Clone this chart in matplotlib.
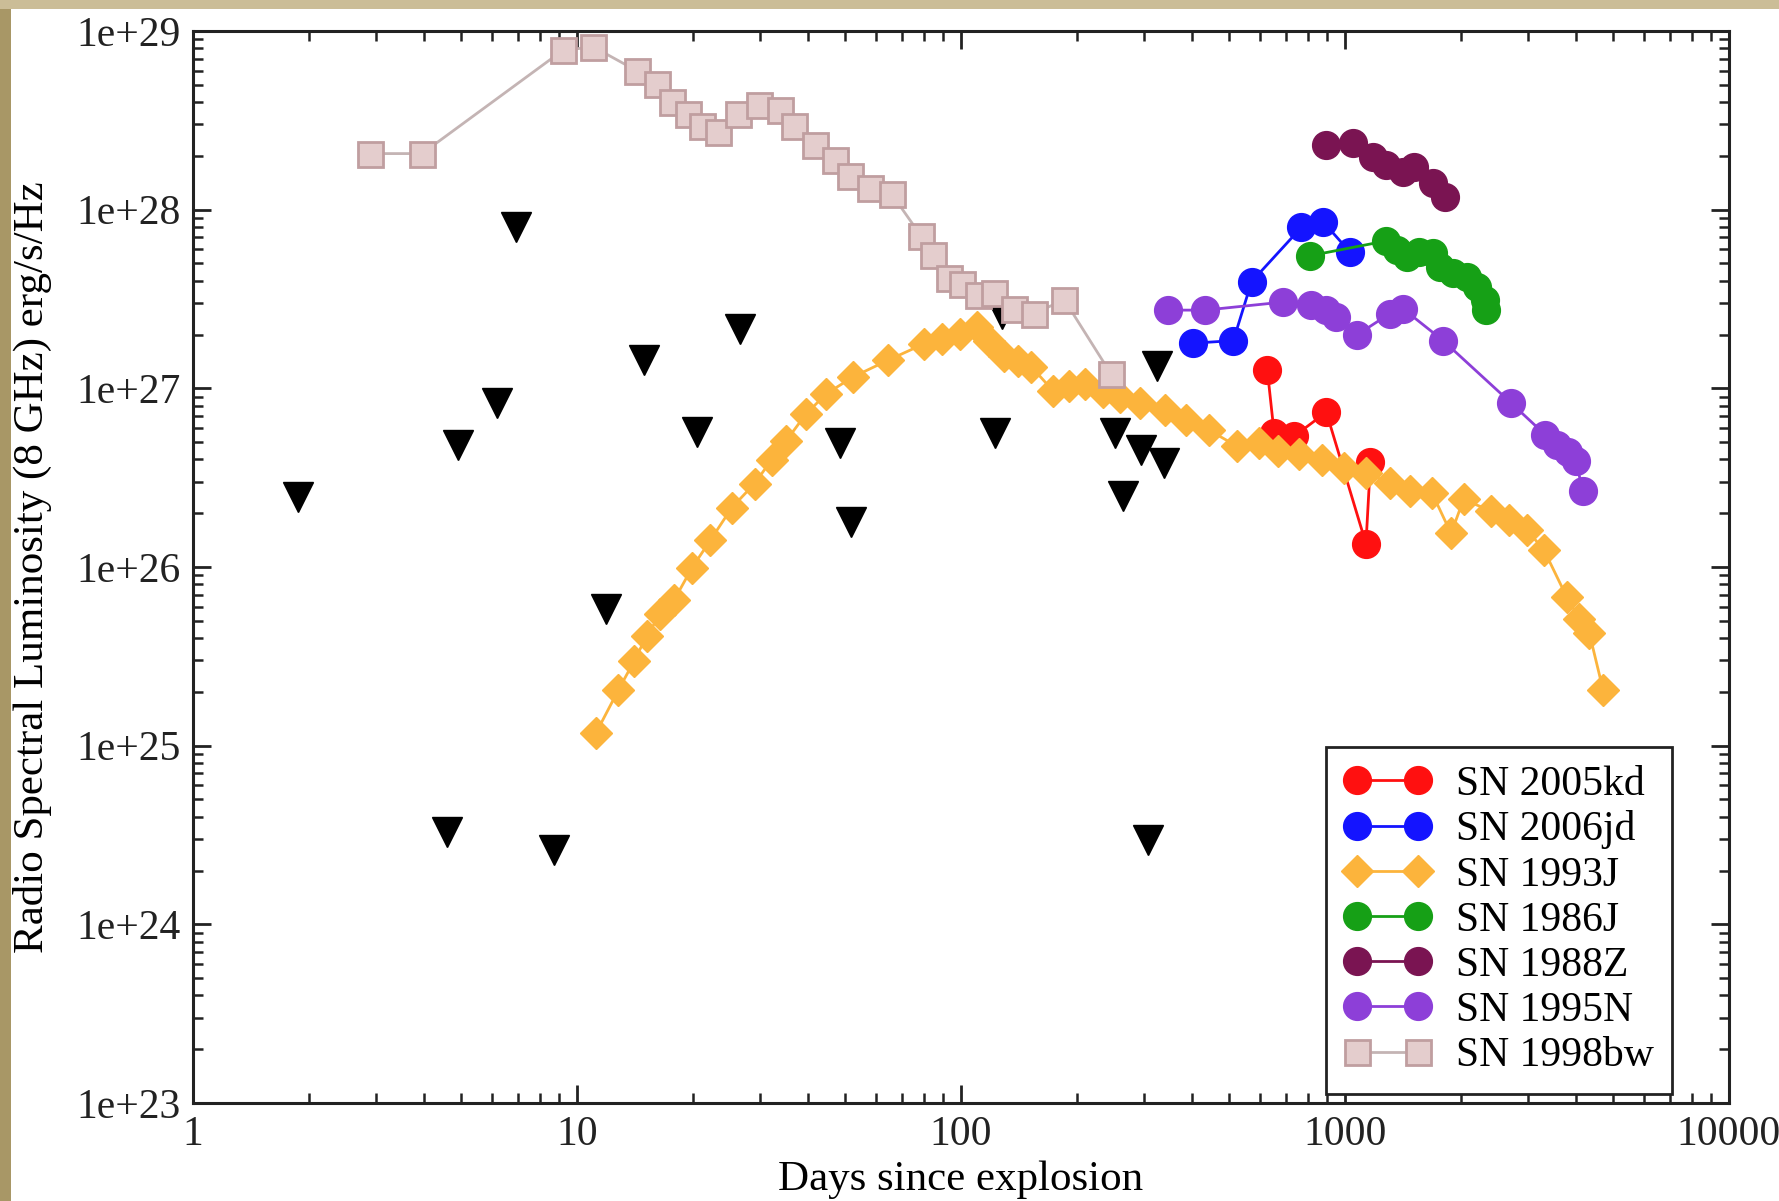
import matplotlib
matplotlib.use("Agg")
import matplotlib.pyplot as plt
from matplotlib.patches import Rectangle
from matplotlib.ticker import FixedLocator, FixedFormatter, LogLocator, NullFormatter

plt.rcParams['font.family'] = ['Liberation Serif', 'DejaVu Serif']

# ---- radio light curves at 8 GHz: days since explosion, luminosity (erg/s/Hz) ----
t_2005kd = [627.8, 653.6, 738.7, 894, 1134, 1165]
L_2005kd = [1.26e27, 5.65e26, 5.41e26, 7.36e26, 1.35e26, 3.87e26]

t_2006jd = [403, 512, 571, 770, 876, 1031]
L_2006jd = [1.79e27, 1.85e27, 3.95e27, 7.97e27, 8.58e27, 5.78e27]

t_1993J = [11.19, 12.82, 14.10, 15.20, 16.49, 17.88, 19.95, 22.24, 25.31, 29.00,
           32.11, 35.09, 39.38, 44.51, 52.42, 64.71, 79.89, 89.07, 99.3, 110.0,
           118.6, 129.5, 140.5, 152.5, 173.5, 190.8, 209.9, 234.0, 259.2, 293.0,
           340.2, 384.6, 443.6, 522.4, 598.4, 667.3, 759.3, 869.9, 996.6, 1134,
           1308, 1479, 1683, 1889, 2036, 2396, 2673, 2980, 3300, 3780,
           4074, 4330, 4700]
L_1993J = [1.17e25, 2.05e25, 2.99e25, 4.13e25, 5.45e25, 6.50e25, 9.93e25, 1.41e26, 2.15e26, 2.93e26,
           3.98e26, 5.10e26, 7.14e26, 9.30e26, 1.16e27, 1.44e27, 1.77e27, 1.90e27, 2.02e27, 2.20e27,
           1.85e27, 1.51e27, 1.42e27, 1.32e27, 9.71e26, 1.03e27, 1.06e27, 9.57e26, 8.90e26, 8.27e26,
           7.57e26, 6.64e26, 5.82e26, 4.75e26, 4.96e26, 4.48e26, 4.29e26, 3.98e26, 3.59e26, 3.34e26,
           2.97e26, 2.68e26, 2.61e26, 1.54e26, 2.39e26, 2.06e26, 1.83e26, 1.61e26, 1.24e26, 6.79e25,
           5.14e25, 4.25e25, 2.05e25]

t_1986J = [812.7, 1282, 1363, 1449, 1561, 1694, 1765, 1915, 2078, 2209, 2317, 2333]
L_1986J = [5.53e27, 6.69e27, 5.95e27, 5.45e27, 5.78e27, 5.70e27, 4.78e27, 4.44e27, 4.19e27, 3.67e27, 3.13e27, 2.74e27]

t_1988Z = [894, 1052, 1181, 1282, 1419, 1509, 1694, 1826]
L_1988Z = [2.29e28, 2.35e28, 1.97e28, 1.78e28, 1.63e28, 1.73e28, 1.41e28, 1.18e28]

t_1995N = [347, 432, 690, 818, 894, 950, 1074, 1308, 1419, 1801,
           2709, 3323, 3556, 3806, 3993, 4158]
L_1995N = [2.74e27, 2.74e27, 3.04e27, 2.91e27, 2.74e27, 2.51e27, 1.99e27, 2.62e27, 2.78e27, 1.85e27,
           8.27e26, 5.49e26, 4.82e26, 4.41e26, 3.93e26, 2.68e26]

t_1998bw = [2.89, 3.95, 9.19, 11.03, 14.29, 16.16, 17.65, 19.41, 21.21, 23.33,
            26.18, 29.81, 33.68, 36.79, 41.58, 46.99, 51.33, 58.02, 66.05, 78.8,
            84.4, 92.8, 100.7, 110.7, 121.8, 137.7, 154.6, 185.8, 245.5]
L_1998bw = [2.06e28, 2.06e28, 7.8e28, 8.15e28, 6.0e28, 5.04e28, 3.98e28, 3.44e28, 2.93e28, 2.72e28,
            3.44e28, 3.86e28, 3.59e28, 2.93e28, 2.29e28, 1.89e28, 1.54e28, 1.33e28, 1.22e28, 7.1e27,
            5.6e27, 4.13e27, 3.84e27, 3.32e27, 3.42e27, 2.78e27, 2.62e27, 3.13e27, 1.21e27]

# upper limits (non-detections)
t_limits = [1.88, 4.91, 6.19, 6.95, 4.59, 8.7, 11.9, 14.9, 20.5, 26.5,
            48.3, 51.7, 122.7, 127.8, 252, 264, 295, 338, 324, 307]
L_limits = [2.45e26, 4.8e26, 8.3e26, 8.0e27, 3.3e24, 2.6e24, 5.8e25, 1.44e27, 5.7e26, 2.14e27,
            4.95e26, 1.78e26, 5.65e26, 2.62e27, 5.6e26, 2.5e26, 4.5e26, 3.8e26, 1.34e27, 2.97e24]

x_ticks = [1, 10, 100, 1000, 10000]
x_tick_labels = ["1", "10", "100", "1000", "10000"]
y_ticks = [1e23, 1e24, 1e25, 1e26, 1e27, 1e28, 1e29]
y_tick_labels = ["1e+23", "1e+24", "1e+25", "1e+26", "1e+27", "1e+28", "1e+29"]

x_label = "Days since explosion"
y_label = "Radio Spectral Luminosity (8 GHz) erg/s/Hz"

# ---- figure ----
W, H = 1779, 1201
fig = plt.figure(figsize=(W / 100, H / 100), dpi=100)
fig.patch.set_facecolor("white")
fig.add_artist(Rectangle((0, 0), 11 / W, 1, transform=fig.transFigure,
                         facecolor="#a89766", edgecolor="none", zorder=0))
fig.add_artist(Rectangle((0, 1 - 9 / H), 1, 9 / H, transform=fig.transFigure,
                         facecolor="#cbbd97", edgecolor="none", zorder=0))

ax = fig.add_axes([193 / W, 1 - 1103 / H, (1729 - 193) / W, (1103 - 31) / H])
ax.set_xscale("log")
ax.set_yscale("log")
ax.set_xlim(1, 10000)
ax.set_ylim(1e23, 1e29)

circ = dict(marker="o", markersize=20, linewidth=2)

ax.plot(t_2005kd, L_2005kd, color="#ff1010", mec="#ff1010", label="SN 2005kd", zorder=3, **circ)
ax.plot(t_2006jd, L_2006jd, color="#1414ff", mec="#1414ff", label="SN 2006jd", zorder=4, **circ)
ax.plot(t_1993J, L_1993J, color="#fcb43c", mec="#fcb43c", marker="D", markersize=16,
        linewidth=2, label="SN 1993J", zorder=5)
ax.plot(t_1986J, L_1986J, color="#16a016", mec="#16a016", label="SN 1986J", zorder=6, **circ)
ax.plot(t_1988Z, L_1988Z, color="#7a1452", mec="#7a1452", label="SN 1988Z", zorder=7, **circ)
ax.plot(t_1995N, L_1995N, color="#8d3fd8", mec="#8d3fd8", label="SN 1995N", zorder=8, **circ)
ax.plot(t_limits, L_limits, linestyle="none", marker="v", markersize=21,
        color="black", zorder=8.5)
ax.plot(t_1998bw, L_1998bw, color="#c4b4b4", marker="s", markersize=18,
        mfc="#e4cdcd", mec="#c09ea0", mew=2, linewidth=2, label="SN 1998bw", zorder=9)

# ---- axes styling ----
for s in ax.spines.values():
    s.set_linewidth(2.2)
    s.set_color("#222222")

ax.xaxis.set_major_locator(FixedLocator(x_ticks))
ax.xaxis.set_major_formatter(FixedFormatter(x_tick_labels))
ax.yaxis.set_major_locator(FixedLocator(y_ticks))
ax.yaxis.set_major_formatter(FixedFormatter(y_tick_labels))
ax.xaxis.set_minor_locator(LogLocator(base=10, subs=range(2, 10), numticks=20))
ax.yaxis.set_minor_locator(LogLocator(base=10, subs=range(2, 10), numticks=20))
ax.xaxis.set_minor_formatter(NullFormatter())
ax.yaxis.set_minor_formatter(NullFormatter())

ax.tick_params(which="both", direction="in", top=True, right=True, colors="#222222")
ax.tick_params(which="major", length=13, width=2, labelsize=30, pad=9)
ax.tick_params(which="minor", length=7, width=1.8)

ax.set_xlabel(x_label, fontsize=31)
ax.xaxis.set_label_coords(0.5, (1103 - 1180) / 1072)
ax.xaxis.label.set_va("center")
ax.set_ylabel(y_label, fontsize=31)
ax.yaxis.set_label_coords((32 - 193) / 1536, 0.5)
ax.yaxis.label.set_va("center")

leg = ax.legend(loc="lower left",
                bbox_to_anchor=((1326 - 193) / 1536, (1103 - 1094) / 1072, (1672 - 1326) / 1536, 0.2),
                mode="expand", fontsize=30, numpoints=2, handlelength=2.06,
                handletextpad=0.6, borderpad=0.45, labelspacing=0.16,
                borderaxespad=0, fancybox=False, framealpha=1, edgecolor="#222222")
leg.get_frame().set_linewidth(2)
leg.set_zorder(20)

fig.savefig("out.png", dpi=100, facecolor=fig.get_facecolor())
